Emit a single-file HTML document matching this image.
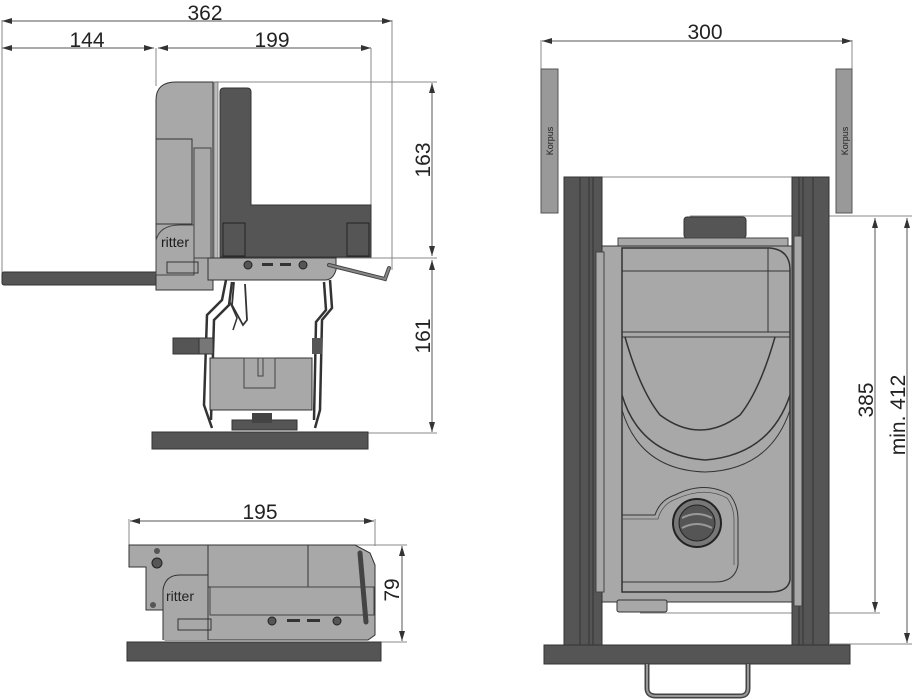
<!DOCTYPE html>
<html><head><style>
html,body{margin:0;padding:0;background:#fff;}
svg{display:block;}
text{font-family:"Liberation Sans",Arial,sans-serif;fill:#222;}
</style></head><body>
<svg width="914" height="700" viewBox="0 0 914 700" xmlns="http://www.w3.org/2000/svg">
<defs>
<marker id="a" markerWidth="10" markerHeight="6" refX="10" refY="3" orient="auto-start-reverse" markerUnits="userSpaceOnUse"><path d="M0,0 L10,3 L0,6 Z" fill="#333"/></marker>
</defs>
<g stroke="#555" stroke-width="1" fill="none">
<line x1="2" y1="21" x2="392" y2="21" marker-start="url(#a)" marker-end="url(#a)"/>
<line x1="2" y1="48" x2="154" y2="48" marker-start="url(#a)" marker-end="url(#a)"/>
<line x1="158" y1="48" x2="371" y2="48" marker-start="url(#a)" marker-end="url(#a)"/>
<line x1="2" y1="20" x2="2" y2="273" stroke="#888"/>
<line x1="392" y1="20" x2="392" y2="270" stroke="#888"/>
<line x1="371" y1="48" x2="371" y2="205" stroke="#888"/>
<line x1="156" y1="48" x2="156" y2="86" stroke="#888"/>
<line x1="215" y1="82" x2="437" y2="82" stroke="#888"/>
<line x1="336" y1="258" x2="437" y2="258" stroke="#888"/>
<line x1="368" y1="433" x2="437" y2="433" stroke="#888"/>
<line x1="432" y1="83" x2="432" y2="256" marker-start="url(#a)" marker-end="url(#a)"/>
<line x1="432" y1="260" x2="432" y2="432" marker-start="url(#a)" marker-end="url(#a)"/>
</g>
<text x="205" y="20" font-size="21" text-anchor="middle">362</text>
<text x="87" y="47" font-size="21" text-anchor="middle">144</text>
<text x="272" y="47" font-size="21" text-anchor="middle">199</text>
<text transform="translate(430,160) rotate(-90)" font-size="21" text-anchor="middle">163</text>
<text transform="translate(430,336) rotate(-90)" font-size="21" text-anchor="middle">161</text>

<rect x="2" y="272" width="156" height="13" rx="2" fill="#555" stroke="#333"/>
<path d="M156,260 L156,100 Q156,82 176,82 L213,82 L213,290 L156,290 Z" fill="#a8a8a8" stroke="#333"/>
<rect x="156" y="139" width="36" height="85" fill="#a8a8a8" stroke="#333"/>
<rect x="194" y="148" width="17" height="110" fill="#a8a8a8" stroke="#444"/>
<path d="M156,260 L156,240 Q160,225 180,225 L194,225 L194,275 L156,275 Z" fill="#a8a8a8" stroke="#444"/>
<text x="161" y="247" font-size="14" style="fill:#1a1a1a">ritter</text>
<rect x="167" y="262" width="31" height="11" fill="none" stroke="#333"/>
<rect x="214" y="82" width="4" height="176" fill="#bbb" stroke="#555" stroke-width=".6"/>
<path d="M220,92 Q220,88 224,88 L247,88 Q251,88 251,92 L251,205 L371,205 L371,257 L220,257 Z" fill="#555" stroke="#333"/>
<rect x="223" y="223" width="22" height="33" fill="none" stroke="#222"/>
<rect x="347" y="223" width="22" height="33" fill="none" stroke="#222"/>
<path d="M208,258 L336,258 L336,270 Q333,280 325,280 L208,280 Z" fill="#a8a8a8" stroke="#333"/>
<circle cx="248" cy="265" r="4" fill="#555" stroke="#222"/>
<circle cx="303" cy="265" r="4" fill="#555" stroke="#222"/>
<rect x="262" y="263" width="11" height="3" fill="#333"/>
<rect x="280" y="263" width="11" height="3" fill="#333"/>
<path d="M329,265 L385,279 L389,268" fill="none" stroke="#444" stroke-width="4" stroke-linecap="round"/>
<path d="M329,265 L385,279 L389,268" fill="none" stroke="#888" stroke-width="2" stroke-linecap="round"/>
<rect x="173" y="338" width="26" height="16" fill="#555" stroke="#333"/>
<g fill="none" stroke="#333" stroke-width="2.5">
<path d="M226,280 L222,300 L207,315 L204,405 L212,428"/>
<path d="M232,282 L229,305 L214,320 L211,420"/>
<path d="M330,280 L332,308 L322,320 L320,410 L315,428"/>
<path d="M324,282 L326,310 L316,322 L314,420"/>
<path d="M234,282 L232,305 L243,325 L247,320 L245,284" stroke-width="1.8"/>
<path d="M229,300 L237,318 L233,330" stroke-width="1.5"/>
</g>
<rect x="199" y="338" width="14" height="16" fill="#777" stroke="#333"/>
<rect x="312" y="338" width="10" height="16" fill="#555"/>
<rect x="210" y="358" width="102" height="52" fill="#a8a8a8" stroke="#333"/>
<rect x="244" y="358" width="31" height="30" fill="#a8a8a8" stroke="#444"/>
<rect x="258" y="358" width="5" height="18" fill="none" stroke="#444"/>
<rect x="232" y="420" width="65" height="10" fill="#555" stroke="#333"/>
<rect x="252" y="413" width="20" height="10" fill="#444"/>
<rect x="152" y="432" width="216" height="17" fill="#555" stroke="#333"/>

<g stroke="#555" stroke-width="1" fill="none">
<line x1="130" y1="521" x2="374" y2="521" marker-start="url(#a)" marker-end="url(#a)"/>
<line x1="129" y1="519" x2="129" y2="546" stroke="#888"/>
<line x1="375" y1="519" x2="375" y2="546" stroke="#888"/>
<line x1="355" y1="545" x2="407" y2="545" stroke="#888"/>
<line x1="375" y1="642" x2="407" y2="642" stroke="#888"/>
<line x1="402" y1="546" x2="402" y2="641" marker-start="url(#a)" marker-end="url(#a)"/>
</g>
<text x="260" y="519" font-size="21" text-anchor="middle">195</text>
<text transform="translate(399,590) rotate(-90)" font-size="21" text-anchor="middle">79</text>
<path d="M129,545 L355,545 L370,553 L375,565 L375,635 L368,640 L165,640 L163,610 L146,610 L146,567 L129,567 Z" fill="#a8a8a8" stroke="#333"/>
<rect x="208" y="545" width="100" height="42" fill="#a8a8a8" stroke="#333"/>
<rect x="210" y="587" width="164" height="28" fill="#a8a8a8" stroke="#444"/>
<path d="M163,640 L163,590 Q165,575 180,575 L208,575 L208,640" fill="#a8a8a8" stroke="#333"/>
<text x="166" y="601" font-size="14">ritter</text>
<rect x="178" y="619" width="33" height="11" fill="none" stroke="#333"/>
<circle cx="157" cy="563" r="5" fill="#555" stroke="#222"/>
<circle cx="157" cy="551" r="3" fill="#555"/>
<circle cx="153" cy="605" r="3" fill="#555"/>
<circle cx="272" cy="621" r="4" fill="#555" stroke="#222"/>
<circle cx="337" cy="621" r="4" fill="#555" stroke="#222"/>
<rect x="287" y="619" width="13" height="3" fill="#333"/>
<rect x="307" y="619" width="13" height="3" fill="#333"/>
<path d="M360,553 L366,622" stroke="#444" stroke-width="5" stroke-linecap="round"/>
<rect x="127" y="642" width="254" height="19" fill="#555" stroke="#333"/>

<g stroke="#555" stroke-width="1" fill="none">
<line x1="542" y1="41" x2="852" y2="41" marker-start="url(#a)" marker-end="url(#a)"/>
<line x1="541" y1="40" x2="541" y2="69" stroke="#888"/>
<line x1="852" y1="40" x2="852" y2="69" stroke="#888"/>
<line x1="690" y1="216" x2="912" y2="216" stroke="#888"/>
<line x1="640" y1="613" x2="880" y2="613" stroke="#888"/>
<line x1="830" y1="644" x2="912" y2="644" stroke="#888"/>
<line x1="875" y1="218" x2="875" y2="612" marker-start="url(#a)" marker-end="url(#a)"/>
<line x1="907" y1="218" x2="907" y2="643" marker-start="url(#a)" marker-end="url(#a)"/>
<line x1="602" y1="177" x2="792" y2="177" stroke="#888"/>
</g>
<text x="705" y="39" font-size="21" text-anchor="middle">300</text>
<text transform="translate(873,400) rotate(-90)" font-size="21" text-anchor="middle">385</text>
<text transform="translate(905,415) rotate(-90)" font-size="21" text-anchor="middle">min. 412</text>

<rect x="541" y="69" width="17" height="144" fill="#999" stroke="#555"/>
<rect x="836" y="69" width="16" height="144" fill="#999" stroke="#555"/>
<text transform="translate(553,141) rotate(-90)" font-size="9" text-anchor="middle">Korpus</text>
<text transform="translate(848,141) rotate(-90)" font-size="9" text-anchor="middle">Korpus</text>

<rect x="564" y="177" width="38" height="468" fill="#555" stroke="#333"/>
<line x1="580" y1="177" x2="580" y2="645" stroke="#333"/>
<line x1="589" y1="177" x2="589" y2="645" stroke="#333"/>
<line x1="593" y1="177" x2="593" y2="645" stroke="#333"/>
<rect x="792" y="177" width="37" height="468" fill="#555" stroke="#333"/>
<line x1="799" y1="177" x2="799" y2="645" stroke="#333"/>
<line x1="803" y1="177" x2="803" y2="645" stroke="#333"/>
<line x1="813" y1="177" x2="813" y2="645" stroke="#333"/>

<rect x="684" y="217" width="62" height="21" rx="3" fill="#555" stroke="#333"/>
<rect x="618" y="238" width="170" height="8" fill="#a8a8a8" stroke="#444"/>
<rect x="602" y="246" width="190" height="356" fill="#a8a8a8" stroke="#333"/>
<rect x="596" y="252" width="8" height="340" fill="#a8a8a8" stroke="#444"/>
<rect x="794" y="236" width="8" height="370" fill="#a8a8a8" stroke="#444"/>
<path d="M622,248 L770,248 Q790,250 790,270 L790,580 Q788,592 770,592 L622,592 Z" fill="#a8a8a8" stroke="#333" stroke-width="1.5"/>
<line x1="622" y1="271" x2="790" y2="271" stroke="#333"/>
<line x1="622" y1="332" x2="790" y2="332" stroke="#333"/>
<line x1="622" y1="337" x2="790" y2="337" stroke="#333"/>
<line x1="768" y1="248" x2="768" y2="332" stroke="#333"/>
<path d="M625,337 Q640,390 660,415 Q700,445 740,415 Q760,390 775,337" fill="none" stroke="#333" stroke-width="1.5"/>
<path d="M622,395 Q640,455 705,460 Q770,455 790,395" fill="none" stroke="#333" stroke-width="1.5"/>
<path d="M622,410 Q640,470 705,472 Q770,470 790,410" fill="none" stroke="#333"/>
<path d="M622,515 L655,515 Q660,500 675,495 Q705,480 730,495 Q738,505 738,520 L738,565 Q735,582 715,582 L622,582" fill="none" stroke="#333"/>
<path d="M622,519 L658,519 Q662,504 676,499 Q705,486 727,498 Q734,507 734,520 L734,565" fill="none" stroke="#555" stroke-width=".8"/>
<circle cx="697" cy="523" r="24" fill="#777" stroke="#222" stroke-width="2"/>
<circle cx="697" cy="523" r="18" fill="#555" stroke="#222"/>
<path d="M682,518 Q697,510 712,518 M682,528 Q697,520 712,528" stroke="#999" stroke-width="2" fill="none"/>
<rect x="617" y="600" width="50" height="12" rx="2" fill="#a8a8a8" stroke="#333"/>
<rect x="544" y="645" width="306" height="19" fill="#555" stroke="#333"/>
<path d="M647,664 L647,688 Q647,696 656,696 L740,696 Q748,696 748,688 L748,664" fill="none" stroke="#444" stroke-width="5"/>
<path d="M647,664 L647,688 Q647,696 656,696 L740,696 Q748,696 748,688 L748,664" fill="none" stroke="#999" stroke-width="2"/>
</svg>
</body></html>
